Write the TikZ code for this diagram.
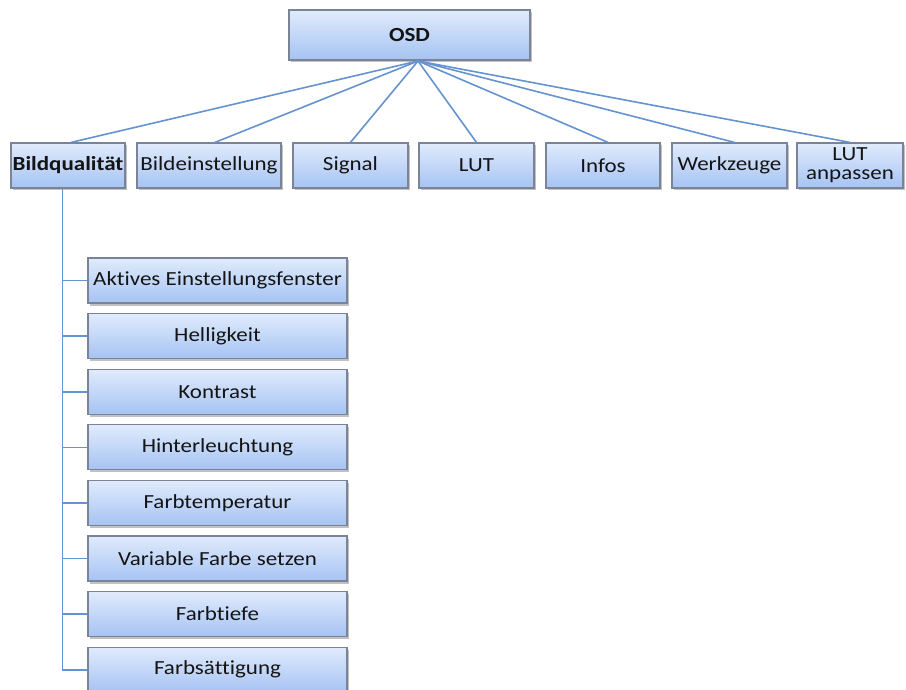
\documentclass[tikz,border=0pt]{standalone}
\usepackage{fontspec}
\setmainfont{Carlito}[FakeStretch=1.15, Ligatures={NoCommon}]
\usetikzlibrary{shadows,calc}
\definecolor{boxtop}{HTML}{E0EBFC}
\definecolor{boxbot}{HTML}{A6C3F3}
\definecolor{boxline}{HTML}{7A8496}
\definecolor{linkblue}{HTML}{6593D0}
\definecolor{txt}{HTML}{141414}
\begin{document}
\begin{tikzpicture}[x=1pt,y=-1pt,
  menubox/.style={rectangle, draw=boxline, line width=1.2pt,
    top color=boxtop, bottom color=boxbot,
    minimum height=45pt, inner sep=0pt, text=txt,
    font=\fontsize{20}{21}\selectfont,
    drop shadow={shadow xshift=1.5pt, shadow yshift=-2.5pt, opacity=0.35, fill=black!70}},
  link/.style={draw=linkblue, line width=1.6pt}]
\useasboundingbox (0,0) rectangle (906,690);

% root
\node[menubox, minimum width=241pt, minimum height=50pt, font=\fontsize{20}{21}\selectfont\bfseries] (osd) at (409.5,35) {OSD};
\coordinate (hub) at (418,61);

% first menu level
\node[menubox, minimum width=114pt, font=\fontsize{20}{21}\selectfont\bfseries] (bq) at (68,165.5) {Bildqualität};
\node[menubox, minimum width=144pt] (be) at (209,165.5) {Bildeinstellung};
\node[menubox, minimum width=115pt] (sig) at (350.5,165.5) {Signal};
\node[menubox, minimum width=115pt] (lut) at (476.5,165.5) {LUT};
\node[menubox, minimum width=114pt] (inf) at (603,165.5) {Infos};
\node[menubox, minimum width=115pt] (wz) at (729.5,165.5) {Werkzeuge};
\node[menubox, minimum width=106pt, align=center, font=\fontsize{20}{19}\selectfont] (lan) at (850,165.5) {LUT\\anpassen};

\draw[link] (hub) -- ([xshift=3pt]bq.north);
\draw[link] (hub) -- ([xshift=6pt]be.north);
\draw[link] (hub) -- (sig.north);
\draw[link] (hub) -- (lut.north);
\draw[link] (hub) -- ([xshift=5pt]inf.north);
\draw[link] (hub) -- ([xshift=5pt]wz.north);
\draw[link] (hub) -- (lan.north);

% submenu of Bildqualität
\foreach \name/\lbl [count=\i from 0] in {
  f1/Aktives Einstellungsfenster, f2/Helligkeit, f3/Kontrast,
  f4/Hinterleuchtung, f5/Farbtemperatur, f6/Variable Farbe setzen,
  f7/Farbtiefe, f8/Farbsättigung} {
  \node[menubox, minimum width=259pt] (\name) at (217.5,{280.5+55.6*\i}) {\lbl};
  \draw[link] (\name.west) -- ++(-25,0);
}
\draw[link] ([xshift=-5.5pt]bq.south) |- ([xshift=-25pt]f8.west);
\end{tikzpicture}
\end{document}
